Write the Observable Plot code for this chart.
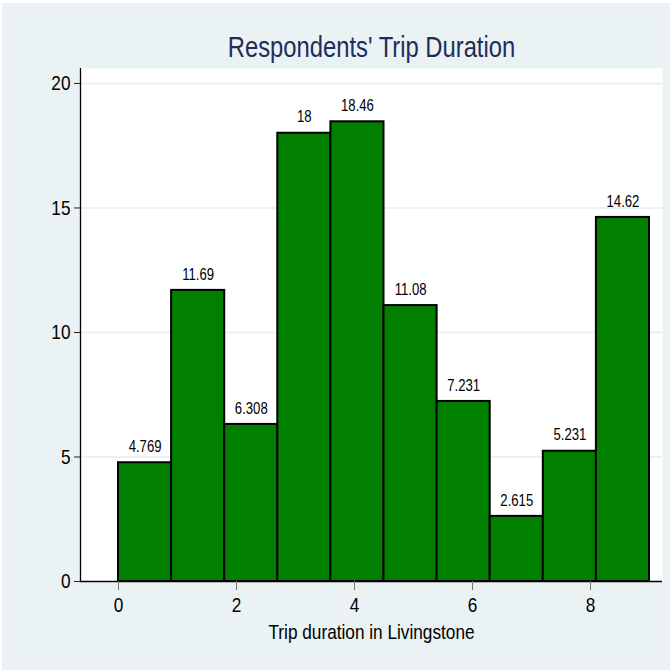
<!DOCTYPE html>
<html>
<head>
<meta charset="utf-8">
<script src="https://cdn.jsdelivr.net/npm/d3@7"></script>
<script src="https://cdn.jsdelivr.net/npm/@observablehq/plot@0.6"></script>
<style>
  html, body { margin: 0; padding: 0; background: #ffffff; }
  #wrap { width: 670px; height: 670px; overflow: hidden; background: #ffffff; }
  #chart { margin: 3px 0 0 2px; }
  svg { display: block; }
</style>
</head>
<body>
<div id="wrap"><div id="chart"></div></div>
<script>
// Histogram bins (lower edges), bin width, and percent values
const binLower = [0, 0.9, 1.8, 2.7, 3.6, 4.5, 5.4, 6.3, 7.2, 8.1];
const binWidth = 0.9;
const percent = [4.769, 11.69, 6.308, 18, 18.46, 11.08, 7.231, 2.615, 5.231, 14.62];
const barLabels = ["4.769", "11.69", "6.308", "18", "18.46", "11.08", "7.231", "2.615", "5.231", "14.62"];
const xTicks = [0, 2, 4, 6, 8];
const yTicks = [0, 5, 10, 15, 20];
const titleText = "Respondents' Trip Duration";
const xLabel = "Trip duration in Livingstone";

const data = binLower.map((lo, i) => ({
  x1: lo, x2: lo + binWidth, mid: lo + binWidth / 2, y: percent[i], label: barLabels[i]
}));

const font = "'Liberation Sans', Arial, sans-serif";
const xMin = -0.644, xMax = 9.22;

const chart = Plot.plot({
  width: 668, height: 667,
  marginLeft: 78, marginRight: 8, marginTop: 65, marginBottom: 89,
  style: { background: "#EAF2F3", fontFamily: font, fontSize: "21px", color: "black" },
  x: { domain: [xMin, xMax] },
  y: { domain: [0, 20.6] },
  marks: [
    Plot.frame({ fill: "white", stroke: null }),
    Plot.gridY(yTicks.filter(d => d > 0), { stroke: "#EAF2F3", strokeOpacity: 1, strokeWidth: 2 }),
    Plot.rectY(data, { x1: "x1", x2: "x2", y: "y", fill: "#007F00", stroke: "black", strokeWidth: 2 }),
    Plot.text(data, { x: "mid", y: "y", text: "label", dy: -16, fontSize: 16, fill: "black" }),
    Plot.ruleX([xMin], { stroke: "black", strokeWidth: 1.3 }),
    Plot.ruleY([0], { stroke: "black", strokeWidth: 1.3, x1: xMin, x2: xMax }),
    Plot.axisY({ ticks: yTicks, tickSize: 6, tickPadding: 4, label: null, stroke: "#222", fill: "black", fontSize: 21 }),
    Plot.axisX({ ticks: xTicks, tickSize: 9, tickPadding: 7, label: null, stroke: "#777", fill: "black", fontSize: 21 }),
    Plot.text([xLabel], { frameAnchor: "bottom", dy: 57, text: d => d, fontSize: 21, fill: "black" }),
    Plot.text([titleText], { frameAnchor: "top", dy: -32, text: d => d, fontSize: 29, fill: "#1E2D5B" })
  ]
});
document.getElementById("chart").appendChild(chart);

// Condense all text to mimic a narrow typeface
chart.querySelectorAll("text").forEach(el => {
  const targets = el.querySelectorAll("tspan").length ? el.querySelectorAll("tspan") : [el];
  targets.forEach(t => {
    const w = t.getComputedTextLength();
    if (w > 0) {
      t.setAttribute("textLength", (w * 0.82).toFixed(2));
      t.setAttribute("lengthAdjust", "spacingAndGlyphs");
    }
  });
});
</script>
</body>
</html>
